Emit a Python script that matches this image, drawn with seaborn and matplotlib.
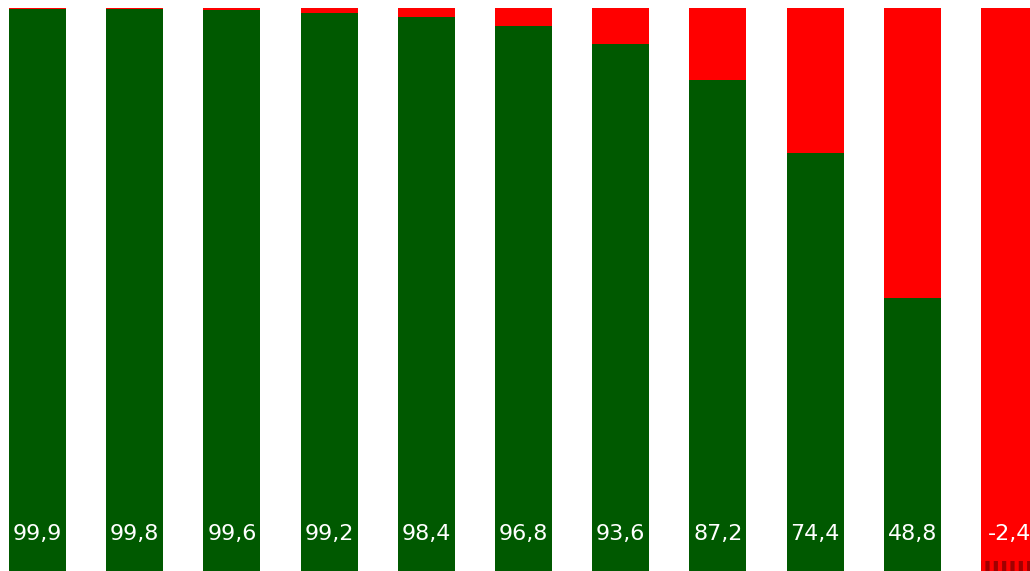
import matplotlib
matplotlib.use("Agg")
import matplotlib.pyplot as plt
import seaborn as sns
import pandas as pd
import numpy as np

categories = ["1", "2", "3", "4", "5", "6", "7", "8", "9", "10", "11"]
values = [99.9, 99.8, 99.6, 99.2, 98.4, 96.8, 93.6, 87.2, 74.4, 48.8, -2.4]
labels = ["99,9", "99,8", "99,6", "99,2", "98,4", "96,8", "93,6", "87,2", "74,4", "48,8", "-2,4"]

GREEN = "#005900"
RED = "#ff0000"
DARKRED = "#a00000"

sns.set_theme(style="white")
plt.rcParams["hatch.linewidth"] = 3.0
plt.rcParams["hatch.color"] = DARKRED

total = [v + (100 - v) for v in values]
df = pd.DataFrame({"cat": categories, "val": values, "total": total})

fig = plt.figure(figsize=(10.30, 5.71), dpi=100)
ax = fig.add_axes([0, 0, 1, 1])

W = 0.586
sns.barplot(data=df, x="cat", y="total", order=categories, color=RED,
            saturation=1, width=W, ax=ax, linewidth=0)
sns.barplot(data=df, x="cat", y="val", order=categories, color=GREEN,
            saturation=1, width=W, ax=ax, linewidth=0)

# hatched strip marking negative values
neg = [abs(v) if v < 0 else 0 for v in values]
ax.bar(range(len(categories)), neg, width=W, color="none", hatch="||",
       edgecolor=DARKRED, linewidth=0)

for i, lab in enumerate(labels):
    ax.text(i, 7.1, lab, ha="center", va="center", color="white", fontsize=16)

ax.set_xlim(-0.386, 10.21)
ax.set_ylim(0.6, 101.41)
ax.axis("off")
fig.savefig("out.png", dpi=100)
